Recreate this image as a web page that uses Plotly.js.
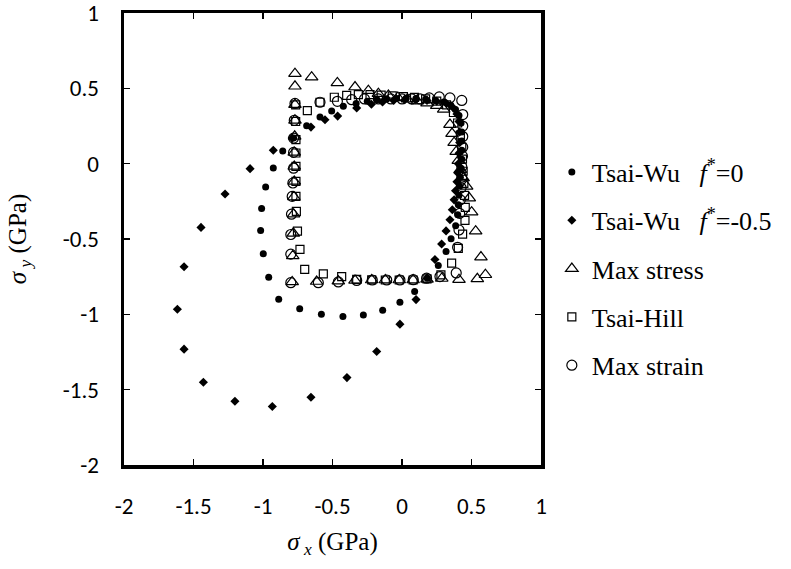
<!DOCTYPE html>
<html>
<head>
<meta charset="utf-8">
<script src="https://cdn.plot.ly/plotly-3.0.1.min.js"></script>
<style>html,body{margin:0;padding:0;background:#fff;}#chart{width:791px;height:569px;}</style>
</head>
<body>
<div id="chart"></div>
<script>
// Tsai-Wu f*=0 (filled dots)
const tw0X = [-0.33,-0.422,-0.506,-0.590,-0.686,-0.78,-0.858,-0.926,-0.981,-1.010,-1.017,-0.998,-0.959,-0.887,-0.736,-0.580,-0.425,-0.278,-0.139,-0.015,0.091,0.182,0.261,0.317,0.353,0.386,0.401,0.405,0.41,0.415,0.42,0.425,0.43,0.43,0.43,0.43,0.425,0.41,0.385,0.35,0.30,0.24,0.17,0.10,0.03,-0.04,-0.11,-0.18,-0.25];
const tw0Y = [0.40,0.381,0.350,0.310,0.252,0.17,0.084,-0.029,-0.155,-0.297,-0.443,-0.598,-0.753,-0.899,-0.963,-0.999,-1.014,-1.005,-0.972,-0.919,-0.848,-0.760,-0.676,-0.583,-0.498,-0.412,-0.339,-0.272,-0.21,-0.15,-0.09,-0.03,0.03,0.09,0.15,0.21,0.27,0.32,0.36,0.39,0.41,0.42,0.428,0.432,0.434,0.432,0.43,0.425,0.415];

// Tsai-Wu f*=-0.5 (filled diamonds)
const tw5X = [-0.22,-0.326,-0.463,-0.554,-0.655,-0.79,-0.926,-1.093,-1.273,-1.446,-1.568,-1.616,-1.568,-1.429,-1.202,-0.933,-0.655,-0.396,-0.182,-0.015,0.101,0.237,0.285,0.317,0.345,0.362,0.375,0.385,0.395,0.40,0.405,0.41,0.415,0.415,0.41,0.395,0.37,0.32,0.25,0.18,0.10,0.02,-0.06,-0.14];
const tw5Y = [0.395,0.370,0.316,0.292,0.243,0.17,0.089,-0.033,-0.201,-0.423,-0.684,-0.966,-1.231,-1.451,-1.577,-1.612,-1.550,-1.420,-1.247,-1.065,-0.902,-0.636,-0.533,-0.446,-0.372,-0.306,-0.24,-0.18,-0.12,-0.06,0.0,0.07,0.14,0.21,0.28,0.33,0.37,0.40,0.415,0.42,0.425,0.425,0.42,0.41];

// Max stress (open triangles)
const msX = [-0.77,-0.77,-0.77,-0.77,-0.772,-0.775,-0.775,-0.775,-0.778,-0.78,-0.782,-0.786,-0.79,-0.614,-0.458,-0.338,-0.218,-0.12,-0.02,0.08,0.18,0.286,0.41,0.542,0.60,0.568,0.53,0.501,0.484,0.465,0.44,0.42,0.405,0.39,0.375,0.36,0.345,0.30,0.25,0.18,0.11,0.04,-0.03,-0.098,-0.17,-0.242,-0.338,-0.465,-0.65];
const msY = [0.598,0.514,0.392,0.288,0.182,0.075,-0.018,-0.118,-0.221,-0.335,-0.462,-0.612,-0.785,-0.782,-0.78,-0.775,-0.772,-0.772,-0.772,-0.772,-0.768,-0.762,-0.77,-0.764,-0.737,-0.620,-0.448,-0.322,-0.228,-0.150,-0.095,-0.04,0.02,0.08,0.14,0.20,0.26,0.36,0.385,0.402,0.416,0.428,0.44,0.453,0.465,0.485,0.509,0.536,0.574];

// Tsai-Hill (open squares)
const thX = [-0.765,-0.765,-0.763,-0.763,-0.763,-0.763,-0.763,-0.76,-0.752,-0.734,-0.700,-0.566,-0.434,-0.326,-0.218,-0.12,-0.02,0.08,0.18,0.28,0.357,0.405,0.436,0.453,0.455,0.45,0.445,0.44,0.435,0.43,0.42,0.40,0.37,0.32,0.25,0.17,0.09,0.01,-0.07,-0.15,-0.23,-0.314,-0.398,-0.487,-0.59,-0.681];
const thY = [0.39,0.28,0.16,0.071,-0.018,-0.118,-0.217,-0.317,-0.448,-0.569,-0.702,-0.731,-0.749,-0.768,-0.771,-0.772,-0.772,-0.772,-0.765,-0.738,-0.66,-0.562,-0.467,-0.376,-0.29,-0.21,-0.13,-0.05,0.03,0.11,0.19,0.27,0.34,0.39,0.415,0.43,0.44,0.445,0.45,0.455,0.458,0.459,0.454,0.441,0.408,0.352];

// Max strain (open circles)
const mnX = [-0.77,-0.775,-0.78,-0.78,-0.78,-0.785,-0.79,-0.795,-0.80,-0.80,-0.80,-0.602,-0.458,-0.326,-0.214,-0.11,-0.015,0.081,0.177,0.273,0.39,0.40,0.41,0.415,0.42,0.425,0.43,0.43,0.435,0.437,0.437,0.437,0.437,0.43,0.345,0.268,0.196,0.13,0.07,0.0,-0.08,-0.17,-0.27,-0.362,-0.465,-0.590];
const mnY = [0.40,0.288,0.17,0.075,-0.03,-0.128,-0.217,-0.335,-0.47,-0.60,-0.79,-0.79,-0.785,-0.775,-0.772,-0.772,-0.772,-0.77,-0.76,-0.749,-0.725,-0.555,-0.44,-0.33,-0.24,-0.16,-0.09,-0.02,0.05,0.11,0.18,0.25,0.326,0.42,0.437,0.443,0.437,0.43,0.43,0.43,0.43,0.43,0.43,0.425,0.414,0.408];

const xTicks = [-2,-1.5,-1,-0.5,0,0.5,1];
const yTicks = [-2,-1.5,-1,-0.5,0,0.5,1];

const names = {
  tw0: 'Tsai-Wu&nbsp;&nbsp;&nbsp;<i>f</i><sup>*</sup>=0',
  tw5: 'Tsai-Wu&nbsp;&nbsp;&nbsp;<i>f</i><sup>*</sup>=-0.5',
  ms: 'Max stress',
  th: 'Tsai-Hill',
  mn: 'Max strain'
};

const black = '#000';
const traces = [
  {x: msX, y: msY, name: names.ms, legendrank: 3, legendgroup:'c', mode:'markers',
   marker:{symbol:'triangle-up-open', size:11, color:black, line:{width:1.2, color:black}}},
  {x: thX, y: thY, name: names.th, legendrank: 4, legendgroup:'d', mode:'markers',
   marker:{symbol:'square-open', size:8, color:black, line:{width:1.2, color:black}}},
  {x: mnX, y: mnY, name: names.mn, legendrank: 5, legendgroup:'e', mode:'markers',
   marker:{symbol:'circle-open', size:10, color:black, line:{width:1.2, color:black}}},
  {x: tw0X, y: tw0Y, name: names.tw0, legendrank: 1, legendgroup:'a', mode:'markers',
   marker:{symbol:'circle', size:7, color:black}},
  {x: tw5X, y: tw5Y, name: names.tw5, legendrank: 2, legendgroup:'b', mode:'markers',
   marker:{symbol:'diamond', size:7, color:black}}
];

const tickFont = {family:'Carlito, Calibri, "Open Sans", sans-serif', size:23, color:black};
const serif = '"Liberation Serif", "Times New Roman", serif';

const layout = {
  width: 791, height: 569,
  margin: {l:124, r:250, t:13, b:104},
  paper_bgcolor:'#fff', plot_bgcolor:'#fff',
  showlegend: true,
  legend: {x:1.026, xanchor:'left', y:0.70, yanchor:'top', font:{family:serif, size:26, color:black},
           traceorder:'grouped', tracegroupgap:11.5, bgcolor:'rgba(0,0,0,0)', itemwidth:30},
  xaxis: {range:[-2,1], tickvals:xTicks, ticktext:xTicks.map(String), ticks:'inside', ticklen:6, tickwidth:1.5,
          tickcolor:black, showline:true, linewidth:3.5, linecolor:black, mirror:'ticks', showgrid:false,
          zeroline:false, tickfont:tickFont, ticklabelstandoff:18, ticklabeloverflow:'allow',
          title:{text:'<i>σ</i><sub> <i>x</i></sub> (GPa)', font:{family:serif, size:25, color:black}, standoff:14}},
  yaxis: {range:[-2,1.0003], tickvals:yTicks, ticktext:yTicks.map(String), ticks:'inside', ticklen:6, tickwidth:1.5,
          tickcolor:black, showline:true, linewidth:3.5, linecolor:black, mirror:'ticks', showgrid:false,
          zeroline:false, tickfont:tickFont, ticklabelstandoff:17, ticklabeloverflow:'allow',
          title:{text:'<i>σ</i><sub> <i>y</i></sub> (GPa)', font:{family:serif, size:25, color:black}, standoff:30}}
};

Plotly.newPlot('chart', traces, layout, {displayModeBar:false, staticPlot:true});
</script>
</body>
</html>
